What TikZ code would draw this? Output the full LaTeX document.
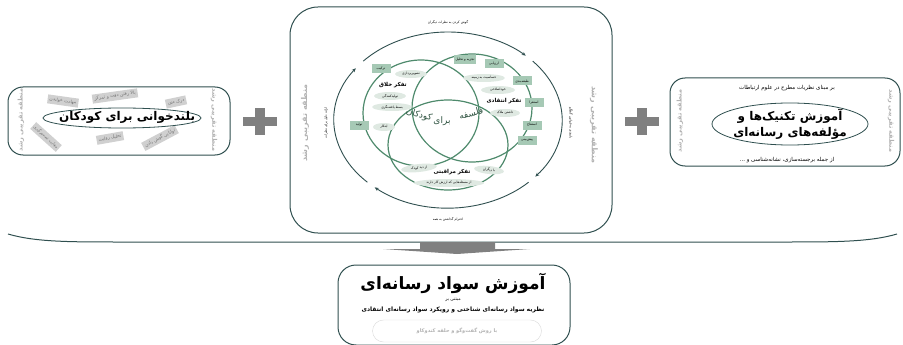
\documentclass[tikz,border=0pt]{standalone}
\usepackage{fontspec}
\usepackage{tikz}
\usetikzlibrary{shapes,arrows,arrows.meta,positioning,calc}
\TeXXeTstate=1
\newfontfamily\fafont[Script=Arabic]{DejaVu Sans}
\newcommand{\fa}[1]{{\fafont\beginR #1\endR}}
\definecolor{frameteal}{RGB}{47,79,79}
\definecolor{venngreen}{RGB}{78,138,108}
\definecolor{palegreen}{RGB}{223,233,226}
\definecolor{skillgreen}{RGB}{166,201,181}
\definecolor{taggray}{RGB}{208,208,208}
\definecolor{zonegray}{RGB}{178,178,178}
\definecolor{plusgray}{RGB}{128,128,128}

\begin{document}
\begin{tikzpicture}[x=1pt, y=-1pt,
    panel/.style={draw=frameteal, line width=1pt, rounded corners=#1},
    panel/.default=15pt,
    oval/.style={ellipse, draw=frameteal, fill=white, line width=0.8pt},
    bigtitle/.style={font=\fontsize{12}{14}\selectfont\bfseries, align=center, inner sep=0pt},
    tagbox/.style={fill=taggray, text=black!55, font=\fontsize{4.5}{5}\selectfont, inner sep=2pt, minimum height=9pt},
    zonetext/.style={text=zonegray, font=\fontsize{6.5}{7}\selectfont\bfseries, inner sep=0pt},
    venn/.style={ellipse, draw=venngreen, line width=1.2pt, inner sep=0pt},
    skill/.style={fill=skillgreen, font=\fontsize{3.3}{4}\selectfont, inner sep=1.5pt, minimum width=19pt, minimum height=9pt},
    trait/.style={ellipse, fill=palegreen, font=\fontsize{3.3}{4}\selectfont, inner sep=0.5pt, minimum height=8pt},
    heading/.style={font=\fontsize{5.5}{6}\selectfont\bfseries, inner sep=0pt},
    centre/.style={text=venngreen!60!black, font=\fontsize{9}{10}\selectfont, inner sep=0pt},
    ringlabel/.style={font=\fontsize{3.3}{4}\selectfont, inner sep=0pt},
    ringarrow/.style={draw=frameteal, line width=0.9pt, -{Stealth[length=4pt,width=3.5pt]}},
    smalltext/.style={font=\fontsize{5.5}{6}\selectfont, inner sep=0pt}
  ]
    \useasboundingbox (0,0) rectangle (903,345);

    % Left panel: read-aloud
    \node[panel, minimum width=222pt, minimum height=68pt] (readpanel) at (119,121) {};
    \node[zonetext, rotate=90] (readzoneL) at (21,120) {\fa{منطقه تقریبی رشد}};
    \node[zonetext, rotate=-90] (readzoneR) at (214,120) {\fa{منطقه تقریبی رشد}};
    \node[tagbox, rotate=-8] (tagread) at (63,101) {\fa{مهارت خواندن}};
    \node[tagbox, rotate=8] (tagfocus) at (115,96) {\fa{بالا رفتن دقت و تمرکز}};
    \node[tagbox, rotate=12] (tagtext) at (176,102) {\fa{درک متن}};
    \node[tagbox, rotate=10] (tagstory) at (110,138) {\fa{تحلیل روایت}};
    \node[tagbox, rotate=28] (taglisten) at (160,138) {\fa{توانایی گوش دادن}};
    \node[oval, minimum width=158pt, minimum height=20pt] (readoval) at (122,118) {};
    \node[tagbox, rotate=-42, font=\fontsize{4}{5}\selectfont, inner sep=1.5pt] (tagdecide) at (46,137) {\fa{مهارت تصمیم‌گیری}};
    \node[bigtitle, font=\fontsize{12}{14}\selectfont\bfseries] (readtitle) at (127,117) {\fa{بلندخوانی برای کودکان}};

    % Plus signs
    \foreach \px in {260,642}
      {\fill[plusgray] (\px-5,108) rectangle (\px+5,135);
       \fill[plusgray] (\px-17,117) rectangle (\px+17,126);}

    % Middle panel: philosophy for children
    \node[panel=28pt, minimum width=322pt, minimum height=226pt] (p4cpanel) at (451,120) {};
    \node[zonetext, font=\fontsize{8}{9}\selectfont\bfseries, rotate=90] (p4czoneL) at (305,123) {\fa{منطقه تقریبی رشد}};
    \node[zonetext, font=\fontsize{8}{9}\selectfont\bfseries, rotate=-90] (p4czoneR) at (594,125) {\fa{منطقه تقریبی رشد}};

    % Dialogue cycle
    \coordinate (ringc) at (448,120);
    \draw[ringarrow] ($(ringc)+(222:114 and 88)$) arc[start angle=222, end angle=313, x radius=114, y radius=88];
    \draw[ringarrow] ($(ringc)+(318:114 and 88)$) arc[start angle=318, end angle=400, x radius=114, y radius=88];
    \draw[ringarrow] ($(ringc)+(45:114 and 88)$) arc[start angle=45, end angle=130, x radius=114, y radius=88];
    \draw[ringarrow] ($(ringc)+(135:114 and 88)$) arc[start angle=135, end angle=216, x radius=114, y radius=88];
    \node[ringlabel] (ringtop) at (448,22) {\fa{گوش کردن به نظرات دیگران}};
    \node[ringlabel] (ringbottom) at (448,219) {\fa{احترام گذاشتن به همه}};
    \node[ringlabel, rotate=90] (ringleft) at (326,123) {\fa{ارائه دلیل برای نظرات}};
    \node[ringlabel, rotate=-90] (ringright) at (571,123) {\fa{پایبندی به قوانین گفتگو}};

    % Venn circles
    \node[venn, minimum width=116pt, minimum height=106pt] (creative) at (421,113) {};
    \node[venn, minimum width=120pt, minimum height=108pt] (critical) at (472,108) {};
    \node[venn, minimum width=120pt, minimum height=90pt] (caring) at (448,145) {};

    % Creative thinking
    \node[heading] (creativehead) at (393,85) {\fa{تفکر خلاق}};
    \node[trait, minimum width=32pt] (trimage) at (411,74) {\fa{تصویرپردازی}};
    \node[trait, minimum width=32pt] (trproduce) at (390,96) {\fa{تولیدکنندگی}};
    \node[trait, minimum width=40pt] (trexpand) at (392,107) {\fa{بسط یافته‌نگری}};
    \node[trait, minimum width=22pt] (trinvent) at (384,127) {\fa{ابتکار}};
    \node[skill] (skcombine) at (381,69) {\fa{ترکیب}};
    \node[skill] (skgenerate) at (359,125) {\fa{تولید}};

    % Critical thinking
    \node[heading] (criticalhead) at (504,101) {\fa{تفکر انتقادی}};
    \node[trait, minimum width=42pt] (trcontext) at (484,78) {\fa{حساسیت به زمینه}};
    \node[trait, minimum width=34pt] (trcorrect) at (498,90) {\fa{خوداصلاحی}};
    \node[trait, minimum width=30pt] (trcriteria) at (505,113) {\fa{داشتن ملاک}};
    \node[skill] (skanalyse) at (465,60) {\fa{تجزیه و تحلیل}};
    \node[skill] (skassess) at (494,64) {\fa{ارزیابی}};
    \node[skill] (skclassify) at (522,81) {\fa{طبقه‌بندی}};
    \node[skill] (skinduce) at (534,103) {\fa{استقرا}};
    \node[skill] (skdeduce) at (532,125) {\fa{استنتاج}};
    \node[skill] (skpredict) at (527,140) {\fa{پیش‌بینی}};

    % Caring thinking
    \node[heading] (caringhead) at (452,172) {\fa{تفکر مراقبتی}};
    \node[trait, minimum width=36pt, rotate=6] (trchild) at (419,168) {\fa{از دید کودک}};
    \node[trait, minimum width=30pt, rotate=-6] (trothers) at (489,170) {\fa{با دیگران}};
    \node[trait, minimum width=70pt] (trworth) at (449,183) {\fa{از مسئله‌هایی که ارزش کار دارند}};

    % Centre words
    \node[centre, rotate=16] (wphil) at (471,113) {\fa{فلسفه}};
    \node[centre] (wfor) at (442,121) {\fa{برای}};
    \node[centre, rotate=-16] (wchild) at (419,115) {\fa{کودکان}};

    % Right panel: media techniques
    \node[panel, minimum width=230pt, minimum height=88pt] (mediapanel) at (785,122) {};
    \node[zonetext, rotate=90] (mediazoneL) at (680,121) {\fa{منطقه تقریبی رشد}};
    \node[zonetext, rotate=-90] (mediazoneR) at (891,121) {\fa{منطقه تقریبی رشد}};
    \node[smalltext] (mediabasis) at (787,88) {\fa{بر مبنای نظریات مطرح در علوم ارتباطات}};
    \node[oval, minimum width=156pt, minimum height=42pt] (mediaoval) at (790,124) {};
    \node[bigtitle] (mediatitle) at (mediaoval) {\fa{آموزش تکنیک‌ها و}\\[2pt]\fa{مؤلفه‌های رسانه‌ای}};
    \node[smalltext] (mediaexample) at (787,160) {\fa{از جمله برجسته‌سازی، نشانه‌شناسی و ...}};

    % Joining brace and arrow
    \draw[frameteal, line width=1pt] (8,234) .. controls (35,242) and (70,242) .. (120,242) -- (785,242) .. controls (835,242) and (870,242) .. (897,234);
    \fill[plusgray] (420,242) -- (495,242) -- (495,249) -- (530,249) -- (457,254) -- (383,249) -- (420,249) -- cycle;

    % Bottom panel: media literacy
    \node[panel=18pt, minimum width=232pt, minimum height=80pt] (literacypanel) at (454,305) {};
    \node[bigtitle, font=\fontsize{17}{19}\selectfont\bfseries] (literacytitle) at (453,283) {\fa{آموزش سواد رسانه‌ای}};
    \node[smalltext, font=\fontsize{4.5}{5}\selectfont] (basedon) at (453,300) {\fa{مبتنی بر}};
    \node[smalltext, font=\fontsize{6}{7}\selectfont\bfseries] (theory) at (453,310) {\fa{نظریه سواد رسانه‌ای شناختی و رویکرد سواد رسانه‌ای انتقادی}};
    \node[draw=black!15, rounded corners=11pt, minimum width=169pt, minimum height=22pt, text=zonegray, font=\fontsize{5}{6}\selectfont\bfseries] (method) at (457,331) {\fa{با روش گفت‌وگو و حلقه کندوکاو}};
  \end{tikzpicture}
\end{document}
